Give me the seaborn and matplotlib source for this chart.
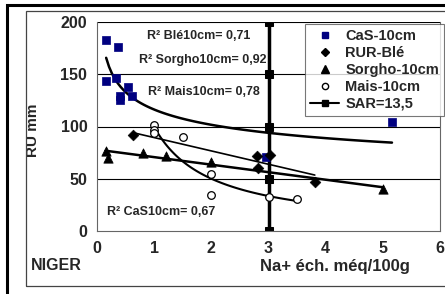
import numpy as np
import pandas as pd
import matplotlib
matplotlib.use("Agg")
import matplotlib.pyplot as plt
from matplotlib.patches import Rectangle
from matplotlib.lines import Line2D
import seaborn as sns

# ---- data ----
cas_x = [0.16, 0.37, 0.16, 0.33, 0.54, 0.40, 0.40, 0.61, 5.16, 2.95]
cas_y = [183, 176, 144, 146, 138, 129, 125, 129, 104, 71]

ble_x = [0.63, 2.80, 3.02, 2.81, 3.81]
ble_y = [92, 72, 73, 60, 47]

sorgho_x = [0.15, 0.20, 0.80, 1.20, 2.00, 5.00]
sorgho_y = [77, 70, 75, 72, 66, 40]

mais_x = [1.0, 1.0, 1.0, 1.5, 2.0, 2.0, 3.0, 3.5]
mais_y = [101, 97, 94, 90, 55, 34, 33, 31]

sar_x = [3, 3, 3, 3, 3]
sar_y = [0, 50, 100, 150, 200]

r2_labels = ["R² Blé10cm= 0,71", "R² Sorgho10cm= 0,92",
             "R² Mais10cm= 0,78", "R² CaS10cm= 0,67"]
x_ticks = [0, 1, 2, 3, 4, 5, 6]
y_ticks = [0, 50, 100, 150, 200]

sns.set_style("white")
plt.rcParams['font.family'] = ['Liberation Sans', 'DejaVu Sans']
plt.rcParams['font.weight'] = 'bold'

fig = plt.figure(figsize=(4.45, 2.94), dpi=100)
W, H = 445, 294
ax = fig.add_axes([97 / W, 1 - 231 / H, 343 / W, (231 - 22) / H])


def power_fit(x, y):
    x = np.asarray(x, float); y = np.asarray(y, float)
    b, a = np.polyfit(np.log(x), np.log(y), 1)
    xs = np.linspace(x.min(), x.max(), 100)
    return xs, np.exp(a) * xs ** b


def lin_fit(x, y):
    x = np.asarray(x, float); y = np.asarray(y, float)
    b, a = np.polyfit(x, y, 1)
    xs = np.linspace(x.min(), x.max(), 100)
    return xs, a + b * xs


# horizontal gridlines
for yv in y_ticks[1:]:
    ax.axhline(yv, color='black', lw=0.8, zorder=0)

# trend lines
fx, fy = power_fit(cas_x, cas_y)
sns.lineplot(x=fx, y=fy, ax=ax, color='black', lw=1.8, estimator=None, sort=False)
fx, fy = lin_fit(ble_x, ble_y)
sns.lineplot(x=fx, y=fy, ax=ax, color='black', lw=1.2, estimator=None, sort=False)
fx, fy = lin_fit(sorgho_x, sorgho_y)
sns.lineplot(x=fx, y=fy, ax=ax, color='black', lw=1.8, estimator=None, sort=False)
fx, fy = power_fit(mais_x, mais_y)
sns.lineplot(x=fx, y=fy, ax=ax, color='black', lw=1.5, estimator=None, sort=False)

# SAR line
sns.lineplot(x=sar_x, y=sar_y, ax=ax, color='black', lw=2.5, marker='s',
             markersize=5.5, markeredgecolor='black', estimator=None, sort=False)

# scatter series
sns.scatterplot(x=cas_x, y=cas_y, ax=ax, marker='s', s=40, color='#000080',
                edgecolor='#000080', linewidth=0.5, zorder=5)
sns.scatterplot(x=ble_x, y=ble_y, ax=ax, marker='D', s=30, color='black',
                edgecolor='black', zorder=5)
sns.scatterplot(x=sorgho_x, y=sorgho_y, ax=ax, marker='^', s=45, color='black',
                edgecolor='black', zorder=5)
sns.scatterplot(x=mais_x, y=mais_y, ax=ax, marker='o', s=30, facecolor='white',
                edgecolor='black', linewidth=0.9, zorder=5)

ax.set_xlim(0, 6)
ax.set_ylim(0, 200)
ax.set_xticks(x_ticks)
ax.set_yticks(y_ticks)
ax.set_xticklabels([str(t) for t in x_ticks], fontsize=11.5, fontweight='bold')
ax.set_yticklabels([str(t) for t in y_ticks], fontsize=11.5, fontweight='bold')
ax.tick_params(axis='both', direction='out', length=4, width=0.8,
               color='#555555', pad=3)
for side in ['left', 'bottom', 'right', 'top']:
    ax.spines[side].set_visible(True)
    ax.spines[side].set_color('#666666')
    ax.spines[side].set_linewidth(0.8)
ax.spines['top'].set_visible(False)
ax.set_xlabel("")
ax.set_ylabel("RU mm", fontsize=11, fontweight='bold', labelpad=6)
ax.yaxis.set_label_coords(-0.165, 0.48)

# R² annotations
ax.text(1.78, 187, r2_labels[0], fontsize=9, fontweight='bold', ha='center', va='center')
ax.text(1.85, 164, r2_labels[1], fontsize=9, fontweight='bold', ha='center', va='center')
ax.text(1.87, 133, r2_labels[2], fontsize=9, fontweight='bold', ha='center', va='center')
ax.text(1.12, 18, r2_labels[3], fontsize=9, fontweight='bold', ha='center', va='center')

# legend
handles = [
    Line2D([], [], ls='none', marker='s', color='#000080', markersize=5),
    Line2D([], [], ls='none', marker='D', color='black', markersize=4.5),
    Line2D([], [], ls='none', marker='^', color='black', markersize=5.5),
    Line2D([], [], ls='none', marker='o', markerfacecolor='white',
           markeredgecolor='black', markersize=4.5),
    Line2D([], [], ls='-', lw=1.5, marker='s', color='black', markersize=4.5),
]
labels = ["CaS-10cm", "RUR-Blé", "Sorgho-10cm", "Mais-10cm", "SAR=13,5"]
leg = fig.legend(handles, labels, loc='upper left',
                 bbox_to_anchor=(305 / W, 1 - 24 / H), frameon=True,
                 fancybox=False, edgecolor='#555555',
                 prop={'weight': 'bold', 'size': 10.5}, handlelength=2.0,
                 handletextpad=0.4, labelspacing=0.2, borderpad=0.35,
                 borderaxespad=0)
leg.get_frame().set_linewidth(0.8)

# text outside axes
fig.text(31 / W, 1 - 266 / H, "NIGER", fontsize=11.5, fontweight='bold',
         ha='left', va='center')
fig.text(335 / W, 1 - 266 / H, "Na+ éch. méq/100g", fontsize=12,
         fontweight='bold', ha='center', va='center')

# frames
fig.patches.append(Rectangle((7 / W, -0.1), 1.2, 1 - 5 / H + 0.1,
                             transform=fig.transFigure, fill=False,
                             edgecolor='black', lw=2.2))
fig.patches.append(Rectangle((26 / W, 1 - 286 / H), 1.2, (286 - 11) / H,
                             transform=fig.transFigure, fill=False,
                             edgecolor='#444444', lw=0.9))

fig.savefig("out.png", dpi=100)
